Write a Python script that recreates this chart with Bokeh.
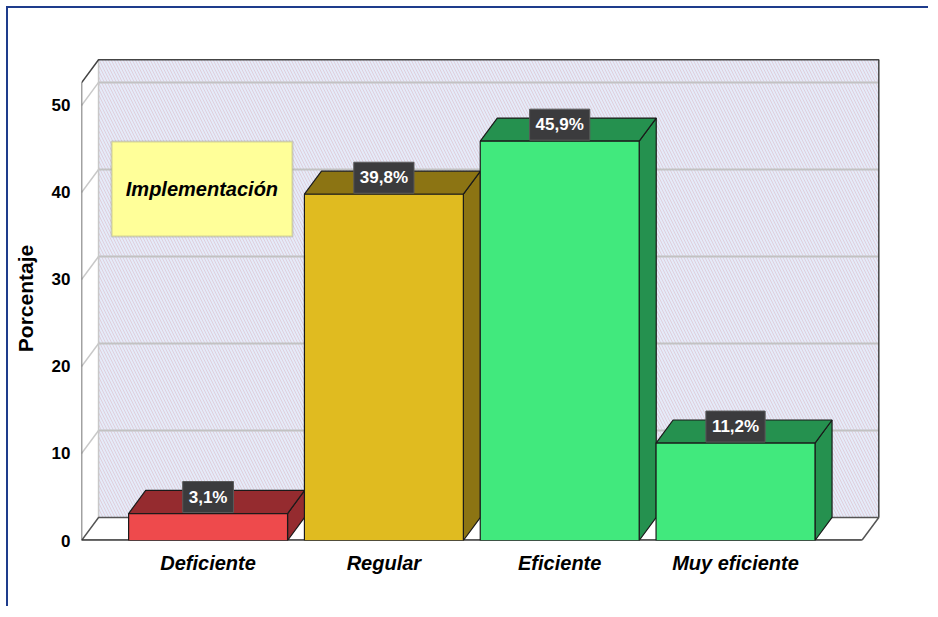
from bokeh.plotting import figure
from bokeh.models import Range1d, FixedTicker, BoxAnnotation, Label
from bokeh.embed import file_html
from bokeh.resources import INLINE
from bokeh.core.properties import value

# ---------------- data ----------------
categories = ["Deficiente", "Regular", "Eficiente", "Muy eficiente"]
percentages = [3.1, 39.8, 45.9, 11.2]
y_ticks = [0, 10, 20, 30, 40, 50]
box_title = "Implementación"
y_label = "Porcentaje"

front_colors = ["#ee4a4c", "#e0bb20", "#41e97d", "#41e97d"]
shade_colors = ["#952b2f", "#8c7413", "#25914f", "#25914f"]

# ---------------- geometry / style ----------------
BAR_W = 0.904
DX = 0.097          # depth offset in x (data units)
DY = 2.65           # depth offset in y (data units)
X0 = -0.72          # front-left edge of the 3D box
XW = 3.815          # back-right edge of the wall
Y_TOP = 52.6        # top of front axis
FONT = "Liberation Sans"

p = figure(frame_width=801, frame_height=484,
           x_range=Range1d(X0, 3.836), y_range=Range1d(0, 55.63),
           output_backend="svg", toolbar_location=None,
           min_border_left=73, min_border_top=48,
           min_border_right=46, min_border_bottom=66)
p.styles = {"margin-left": "6px", "margin-top": "6px",
            "border-left": "2px solid #1e3c8c", "border-top": "2px solid #1e3c8c"}
p.outline_line_color = None
p.grid.visible = False
p.background_fill_color = "white"

# back wall (hatched)
p.patch([X0 + DX, XW, XW, X0 + DX], [DY, DY, Y_TOP + DY, Y_TOP + DY],
        fill_color="#e5ebf9", line_color=None,
        hatch_pattern="left_diagonal_line", hatch_color="#dfcfdb",
        hatch_scale=6, hatch_weight=1)

# gridlines on back wall and side wall
gt = y_ticks[1:]
p.segment(x0=[X0 + DX] * len(gt), y0=[t + DY for t in gt],
          x1=[XW] * len(gt), y1=[t + DY for t in gt],
          line_color="#c2c2c2", line_width=2)

# left side wall
p.patch([X0, X0, X0 + DX, X0 + DX], [0, Y_TOP, Y_TOP + DY, DY],
        fill_color="white", line_color=None)
p.segment(x0=[X0] * len(gt), y0=gt, x1=[X0 + DX] * len(gt),
          y1=[t + DY for t in gt], line_color="#c8c8c8", line_width=1.5)

# wall edges
p.line([X0 + DX, X0 + DX], [DY, Y_TOP + DY], line_color="#c8c8c8", line_width=1.5)
p.line([X0, X0, X0 + DX, XW, XW], [0, Y_TOP, Y_TOP + DY, Y_TOP + DY, DY],
       line_color="#444444", line_width=1.5)

# floor
p.patch([X0, XW - DX, XW, X0 + DX], [0, 0, DY, DY],
        fill_color="white", line_color="#555555", line_width=1.5)
p.line([X0, XW - DX], [0, 0], line_color="#333333", line_width=2.5)

# bars
idx = list(range(len(categories)))
lefts = [i - BAR_W / 2 for i in idx]
rights = [i + BAR_W / 2 for i in idx]
top_xs = [[l, r, r + DX, l + DX] for l, r in zip(lefts, rights)]
top_ys = [[v, v, v + DY, v + DY] for v in percentages]
side_xs = [[r, r + DX, r + DX, r] for r in rights]
side_ys = [[0, DY, v + DY, v] for v in percentages]

p.patches(side_xs, side_ys, fill_color=shade_colors, line_color="#1a1a1a", line_width=1.2)
p.patches(top_xs, top_ys, fill_color=shade_colors, line_color="#1a1a1a", line_width=1.2)
p.quad(left=lefts, right=rights, bottom=[0] * len(idx), top=percentages,
       fill_color=front_colors, line_color="#1a1a1a", line_width=1.2)

# value labels
labels = [f"{v:.1f}".replace(".", ",") + "%" for v in percentages]
p.text(x=idx, y=percentages, text=labels, text_align="center",
       text_baseline="bottom", y_offset=-1,
       text_font=value(FONT), text_font_style="bold", text_font_size="17px",
       text_color="white", background_fill_color="#3b3b3d",
       border_line_color="#5a5a5a", border_line_width=1, padding=6)

# title box
box = BoxAnnotation(left=-0.549, right=0.48, bottom=34.94, top=45.86,
                    fill_color="#ffff99", fill_alpha=1,
                    line_color="#7a7a7a", line_width=2)
p.add_layout(box)
p.add_layout(Label(x=-0.035, y=40.4, text=box_title, text_align="center",
                   text_baseline="middle", text_font=FONT,
                   text_font_style="bold italic", text_font_size="20px",
                   text_color="black"))

# axes
p.xaxis.ticker = FixedTicker(ticks=idx)
p.xaxis.major_label_overrides = {i: c for i, c in zip(idx, categories)}
p.xaxis.axis_line_color = None
p.xaxis.major_tick_line_color = None
p.xaxis.minor_tick_line_color = None
p.xaxis.major_label_standoff = 5
p.xaxis.major_label_text_font = FONT
p.xaxis.major_label_text_font_style = "bold italic"
p.xaxis.major_label_text_font_size = "20px"
p.xaxis.major_label_text_color = "black"

p.yaxis.ticker = FixedTicker(ticks=y_ticks)
p.yaxis.axis_line_color = None
p.yaxis.major_tick_line_color = None
p.yaxis.minor_tick_line_color = None
p.yaxis.major_label_standoff = 5
p.yaxis.major_label_text_font = FONT
p.yaxis.major_label_text_font_style = "bold"
p.yaxis.major_label_text_font_size = "17px"
p.yaxis.major_label_text_color = "black"
p.yaxis.axis_label = y_label
p.yaxis.axis_label_standoff = 12
p.yaxis.axis_label_text_font = FONT
p.yaxis.axis_label_text_font_style = "bold"
p.yaxis.axis_label_text_font_size = "21px"
p.yaxis.axis_label_text_color = "black"

open("out.html", "w").write(file_html(p, INLINE))
